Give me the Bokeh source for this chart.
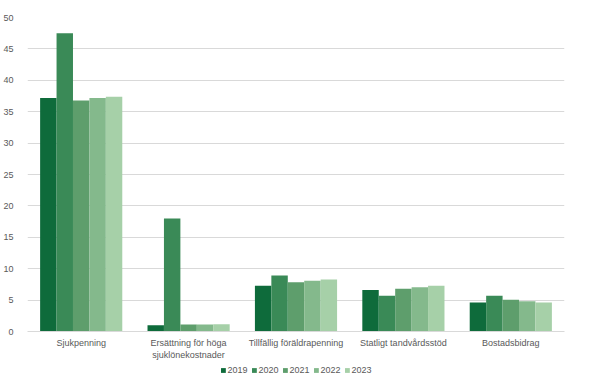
from bokeh.plotting import figure
from bokeh.models import ColumnDataSource, Legend, LegendItem, SingleIntervalTicker, Range1d
from bokeh.layouts import column
from bokeh.transform import dodge
from bokeh.embed import file_html
from bokeh.resources import INLINE

categories = ["Sjukpenning", "Ersättning för höga\nsjuklönekostnader", "Tillfällig föräldrapenning",
              "Statligt tandvårdsstöd", "Bostadsbidrag"]
years = ["2019", "2020", "2021", "2022", "2023"]
v2019 = [37.2, 1.0, 7.3, 6.6, 4.6]
v2020 = [47.5, 18.0, 8.9, 5.7, 5.7]
v2021 = [36.8, 1.1, 7.85, 6.8, 5.05]
v2022 = [37.2, 1.1, 8.1, 7.05, 4.8]
v2023 = [37.4, 1.15, 8.3, 7.3, 4.6]
colors = ["#0e6b3b", "#3a8a57", "#5e9e6c", "#84b98c", "#a6d0a8"]

source = ColumnDataSource(dict(cat=categories, y2019=v2019, y2020=v2020, y2021=v2021,
                               y2022=v2022, y2023=v2023))

p = figure(x_range=categories, y_range=(0, 50), width=576, height=362,
           output_backend="svg", toolbar_location=None,
           min_border_left=20, min_border_right=12, min_border_top=17, min_border_bottom=31)
p.outline_line_color = None

bw = 0.153
offsets = [-2 * bw, -bw, 0, bw, 2 * bw]
for yr, col, off in zip(years, colors, offsets):
    p.vbar(x=dodge("cat", off, range=p.x_range), top="y" + yr, width=bw, source=source,
           fill_color=col, line_color=None)

p.yaxis.ticker = SingleIntervalTicker(interval=5)
p.yaxis.axis_line_color = None
p.yaxis.major_tick_line_color = None
p.yaxis.minor_tick_line_color = None
p.yaxis.major_label_standoff = 8
p.yaxis.major_label_text_font = "Liberation Sans"
p.yaxis.major_label_text_font_size = "9px"
p.yaxis.major_label_text_color = "#595959"

p.xaxis.axis_line_color = "#d9d9d9"
p.xaxis.major_tick_line_color = None
p.xaxis.major_tick_out = 0
p.xaxis.minor_tick_line_color = None
p.xaxis.major_label_standoff = 6
p.xaxis.major_label_text_font = "Liberation Sans"
p.xaxis.major_label_text_font_size = "9px"
p.xaxis.major_label_text_color = "#595959"

p.xgrid.grid_line_color = None
p.ygrid.grid_line_color = "#d9d9d9"

# legend in its own strip below
pl = figure(width=576, height=16, x_range=Range1d(0, 1), y_range=Range1d(0, 1),
            output_backend="svg", toolbar_location=None,
            min_border_left=0, min_border_right=10, min_border_top=0, min_border_bottom=0)
pl.axis.visible = False
pl.grid.visible = False
pl.outline_line_color = None
items = []
for yr, col in zip(years, colors):
    r = pl.vbar(x=[-5], top=[-5], bottom=[-6], width=0.1, fill_color=col, line_color=None)
    items.append(LegendItem(label=yr, renderers=[r]))

legend = Legend(items=items, orientation="horizontal", location="center",
                label_text_font="Liberation Sans", label_text_font_size="9px",
                label_text_color="#595959", glyph_width=6, glyph_height=6,
                label_standoff=2, spacing=3, border_line_color=None,
                padding=0, margin=0, background_fill_alpha=0, label_height=10)
pl.add_layout(legend, "center")

layout = column(p, pl, spacing=0)
open("out.html", "w").write(file_html(layout, INLINE))
